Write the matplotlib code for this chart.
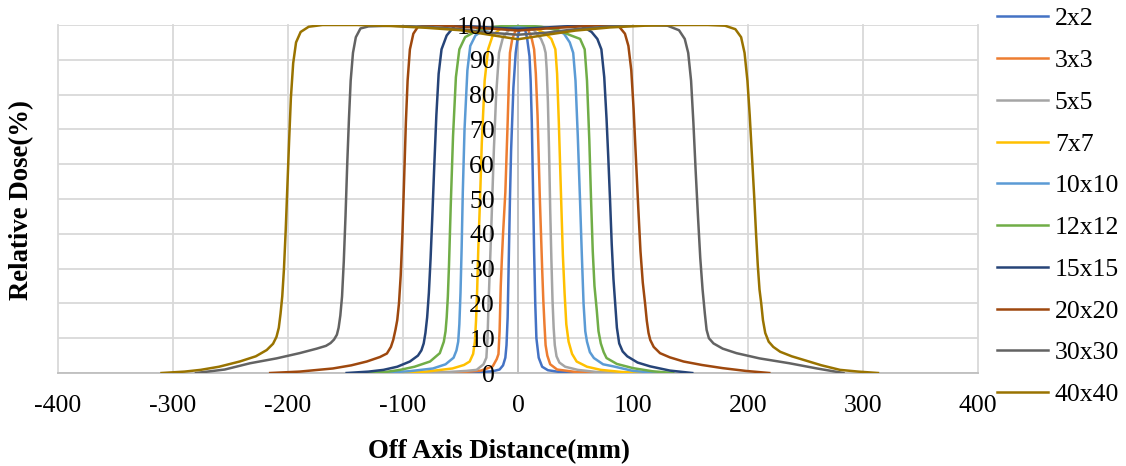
import matplotlib
matplotlib.use("Agg")
import matplotlib.pyplot as plt

plt.rcParams['font.family'] = ['Liberation Serif', 'DejaVu Serif']
plt.rcParams['axes.unicode_minus'] = False

# field sizes and Excel-like colours
fields = ['2x2', '3x3', '5x5', '7x7', '10x10', '12x12', '15x15', '20x20', '30x30', '40x40']
colors = ['#4472C4', '#ED7D31', '#A5A5A5', '#FFC000', '#5B9BD5',
          '#70AD47', '#264478', '#9E480E', '#636363', '#997300']

x_ticks = [-400, -300, -200, -100, 0, 100, 200, 300, 400]
x_tick_labels = ['-400', '-300', '-200', '-100', '0', '100', '200', '300', '400']
y_ticks = [0, 10, 20, 30, 40, 50, 60, 70, 80, 90, 100]
y_tick_labels = ['0', '10', '20', '30', '40', '50', '60', '70', '80', '90', '100']

# profiles: off-axis distance (mm) / relative dose (%)
x_2x2 = [-55, -35, -22, -16, -13, -11, -10, -9, -8, -7, -6, -4, -2, 0, 2, 4, 6, 8, 10, 11,
         12, 13, 14, 15, 16, 18, 21, 26, 36, 56]
d_2x2 = [0, 0.2, 0.5, 1.0, 2.2, 4.4, 8, 16, 33, 50, 64, 82, 92, 97, 99.5, 100, 99, 96, 91, 84,
         72, 54, 35, 20, 10, 4.4, 1.8, 0.8, 0.3, 0]

x_3x3 = [-74, -50, -32, -22, -18.5, -17, -16, -15, -14, -13, -12, -11, -10, -9, -8, -7, -5, -2,
         2, 6, 9, 12, 14, 15.5, 17, 18, 19, 20, 21, 22, 23, 24, 25.5, 28, 34, 50, 77]
d_3x3 = [0, 0.2, 0.7, 1.9, 4, 5.4, 12, 25, 33, 40, 46, 52, 62, 72, 83, 92, 96, 98.5,
         99.5, 99.5, 98.5, 96, 93, 86, 74, 62, 50, 40, 30, 21, 14, 8, 5, 2.5, 1, 0.3, 0]

x_5x5 = [-86, -60, -45, -36, -30, -27.5, -26.5, -25.5, -24.5, -23.5, -22.5, -21, -19, -16.5,
         -13, -8, 0, 8, 14, 20, 22.5, 24, 25, 26, 27, 28, 29, 30, 31, 32, 33.5, 36, 41, 52, 68, 89]
d_5x5 = [0, 0.3, 0.6, 0.9, 2.5, 4.4, 10, 21, 30, 39, 49, 64, 80, 92,
         96.5, 98.5, 99.8, 99.5, 98.5, 96, 94, 92, 87, 78, 64, 47, 33, 21, 13, 8, 4.8, 3, 1.8, 0.9, 0.3, 0]

x_7x7 = [-108.5, -80, -57, -47, -42, -39, -37.5, -36.5, -35.5, -34.5, -33, -31.5, -29, -26, -22,
         -15, -5, 5, 15, 24, 29, 32.5, 34, 35.5, 37.5, 39, 40.5, 42, 44, 47, 51, 60, 72, 90, 109]
d_7x7 = [0, 0.4, 1.3, 2.3, 3.3, 5.5, 9, 15, 24, 36, 50, 66, 84, 93, 97,
         99, 100, 100, 99, 97.5, 96, 93, 86, 72, 50, 34, 23, 14, 9, 5.5, 3.3, 1.8, 0.9, 0.3, 0]

x_10x10 = [-121.5, -95, -74, -63, -56, -53.5, -52, -51, -50, -49, -48, -46.5, -44, -41.5, -37,
           -30, -15, 0, 15, 30, 40, 45, 48, 50, 52, 54, 55.5, 57, 58.5, 60, 62.5, 66, 74, 83, 100, 121]
d_10x10 = [0, 0.5, 1.3, 2.5, 4.4, 6.5, 9, 14, 23, 36, 52, 70, 87, 94, 97,
           98.5, 99.5, 99.5, 99.5, 99, 97.5, 95, 92, 84, 68, 49, 34, 20, 12, 9, 6, 4.3, 2.5, 1.9, 0.6, 0]

x_12x12 = [-133, -115, -102.5, -90, -76.5, -68, -64.5, -63, -62, -61, -60, -58.5, -56.5, -54, -51,
           -46, -35, -20, 0, 20, 35, 46, 54, 58, 60, 62, 63.5, 65, 66.5, 68.5, 70, 72, 74.5, 77, 86,
           100, 117, 135]
d_12x12 = [0, 0.3, 0.9, 1.8, 3.3, 5.7, 9, 12, 16, 22, 31, 48, 68, 85, 93,
           96.5, 98.5, 99.5, 100, 99.5, 98.5, 97, 96, 93, 84, 67, 50, 35, 25, 18, 12, 8.5, 6, 4.3, 2.6,
           1.4, 0.5, 0]

x_15x15 = [-149, -130, -117, -105, -94, -87, -84, -82, -80.5, -79, -77.5, -76, -74.5, -73, -71,
           -69, -66.5, -62, -55, -40, -20, 0, 20, 40, 55, 64, 69, 72.5, 75, 77, 78.5, 80, 81.5, 83,
           84.5, 86, 88, 91, 95, 104, 115, 132, 151.5]
d_15x15 = [0, 0.4, 0.9, 1.8, 3.3, 5, 6.5, 8.5, 11.5, 16, 23, 33, 45, 58, 74,
           86, 93, 97, 99.8, 99.6, 99.2, 98.9, 99.2, 99.6, 99.8, 98, 96, 93, 85, 73, 62, 50, 37, 27,
           20, 13, 8.5, 6.2, 4.8, 3, 1.9, 0.7, 0]

x_20x20 = [-215.5, -190, -161, -145, -131.5, -120, -114, -110.5, -108.5, -106.5, -105, -103.5,
           -102, -100.5, -99, -97.5, -96, -94, -91, -87, -75, -50, -25, 0, 25, 50, 75, 88, 93, 96,
           98.5, 100.5, 102.5, 104.5, 106.5, 108.5, 110.5, 112, 113.5, 115, 118, 123.5, 132, 144,
           160, 178, 198, 218.5]
d_20x20 = [0, 0.4, 1.3, 2.2, 3.3, 4.6, 5.6, 7.5, 9.5, 12.5, 15.2, 20,
           28, 40, 56, 72, 84, 93, 97.5, 99.5, 100, 99.5, 99, 98.4, 99, 99.5, 100, 99.5, 97.5, 94,
           87, 76, 62, 48, 35, 26, 20, 15, 11.5, 9.5, 7.5, 5.7, 4.5, 3.3,
           2.3, 1.4, 0.6, 0]

x_30x30 = [-280, -255, -233, -210, -190, -175, -167, -163, -160, -157.5, -156, -154.5, -153,
           -151.5, -150, -148.5, -147, -145.5, -143.5, -141, -137, -130, -110, -80, -50, -25, 0,
           25, 50, 80, 110, 130, 140, 145, 148, 150.5, 152.5, 154.5, 156.5, 158.5, 160.5, 162.5,
           164, 166, 170, 178, 190, 210, 236, 260, 283]
d_30x30 = [0, 1.0, 2.8, 4.2, 5.7, 7.0, 7.8, 8.6, 9.6, 11, 13, 16.5, 22,
           32, 45, 60, 73, 84, 92, 96.5, 99, 99.6, 99.8, 99.5, 98.8, 97.8, 97.2,
           97.8, 98.8, 99.6, 100, 99.8, 98.5, 96, 92, 84, 72, 58, 45, 33, 24, 17,
           12.4, 10, 8.5, 7, 5.7, 4.2, 2.8, 1.3, 0]

x_40x40 = [-310, -290, -276, -260, -242, -228, -218.5, -213, -210, -208, -206.5, -205, -203.5,
           -202, -200.5, -199, -197.5, -195.5, -193, -189, -182, -170, -140, -110, -80, -50, -25,
           0, 25, 50, 80, 110, 140, 165, 180, 189, 194, 197, 199.5, 201.5, 203.5, 205.5, 207,
           208.5, 210, 211.5, 213, 215, 218, 222, 228, 238, 248, 264, 280, 296, 313]
d_40x40 = [0, 0.4, 0.9, 1.8, 3.3, 4.8, 6.6, 8.4, 10.4, 13, 17, 22, 30,
           41, 54, 67, 79, 89, 95, 98, 99.5, 100, 100, 99.7, 99.2, 98.5, 97.2,
           95.9, 97.2, 98.4, 99.3, 99.8, 100, 100, 99.8, 98.8, 96.5, 92, 84, 74, 62, 50, 40,
           31, 24, 20, 15.2, 11.5, 9, 7.5, 6.1, 4.8, 3.8, 2.2, 0.9, 0.4, 0]

xs_all = [x_2x2, x_3x3, x_5x5, x_7x7, x_10x10, x_12x12, x_15x15, x_20x20, x_30x30, x_40x40]
ds_all = [d_2x2, d_3x3, d_5x5, d_7x7, d_10x10, d_12x12, d_15x15, d_20x20, d_30x30, d_40x40]

FontSize = 18.5
W, H = 1126, 466
fig = plt.figure(figsize=(W / 100, H / 100), dpi=100)
rect = [58 / W, 93 / H, 920 / W, 348 / H]
ax = fig.add_axes(rect)

for xs, ds, lab, c in zip(xs_all, ds_all, fields, colors):
    ax.plot(xs, ds, color=c, lw=1.8, label=lab, solid_joinstyle='round', zorder=3)

ax.set_xlim(-400, 400)
ax.set_ylim(0, 100)
ax.set_xticks(x_ticks)
ax.set_xticklabels(x_tick_labels)
ax.set_yticks(y_ticks)
ax.grid(True, color='#d9d9d9', lw=1.3)
for gl in ax.get_xgridlines() + ax.get_ygridlines():
    gl.set_clip_on(False)
ax.spines[['top', 'right']].set_visible(False)
ax.spines['left'].set_position(('data', 0))
ax.spines['left'].set_color('#bfbfbf')
ax.spines['bottom'].set_color('#bfbfbf')
ax.spines['left'].set_linewidth(1.3)
ax.spines['bottom'].set_linewidth(1.3)
ax.tick_params(axis='both', length=0, labelsize=FontSize)
ax.tick_params(axis='x', pad=16)
ax.tick_params(axis='y', labelleft=False)

ax.set_xlabel('Off Axis Distance(mm)', fontsize=19.3, fontweight='bold')
ax.xaxis.label.set_va('center')
ax.xaxis.set_label_coords((499 - 58) / 920, (373 - 452) / 348)
ax.set_ylabel('Relative Dose(%)', fontsize=19.3, fontweight='bold')
ax.yaxis.label.set_va('center')
ax.yaxis.set_label_coords((22 - 58) / 920, (373 - 200) / 348)

# y tick labels sit on top of the curves, so draw them from an overlay axes
ax2 = fig.add_axes(rect, sharex=ax, sharey=ax, frameon=False)
ax2.spines['left'].set_position(('data', 0))
ax2.set_yticks(y_ticks)
ax2.set_yticklabels(y_tick_labels)
ax2.tick_params(axis='x', bottom=False, labelbottom=False)
ax2.tick_params(axis='y', length=0, labelsize=FontSize, pad=16.5)
ax2.grid(False)

ax.legend(loc='upper left', bbox_to_anchor=(997 / W, 0.984), bbox_transform=fig.transFigure,
          frameon=False, fontsize=FontSize, handlelength=2.0, handletextpad=0.25,
          labelspacing=0.73, borderpad=0, borderaxespad=0)

fig.savefig('out.png', dpi=100)
